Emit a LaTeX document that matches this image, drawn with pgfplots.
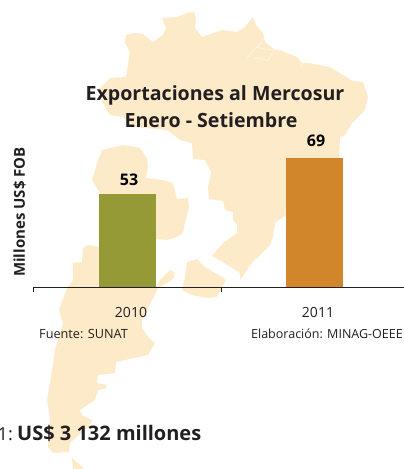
\documentclass[border=0pt]{standalone}
\usepackage{pgfplots}
\pgfplotsset{compat=1.18}
\usepackage{fontspec}
\setmainfont{Open Sans}
\definecolor{cream}{HTML}{FDEAC9}
\definecolor{olive}{HTML}{969A36}
\definecolor{ocre}{HTML}{D2862C}
\definecolor{ink}{HTML}{231F20}
\newcommand{\fs}[1]{\fontsize{#1}{#1}\selectfont}
\begin{document}
\begin{tikzpicture}[x=1pt,y=1pt]
\useasboundingbox (0,0) rectangle (404,469);
\clip (0,0) rectangle (404,469);
\begin{axis}[
  at={(0,0)},anchor=south west,scale only axis,width=404pt,height=469pt,
  xmin=0,xmax=404,ymin=0,ymax=469,y dir=reverse,axis lines=none,clip=false]
% Brazil
\addplot[fill=cream,draw=none] coordinates {
(126,35)(135,33)(143,34)(153,42)(163,35)(166,28)(162,18)(177,17)(190,12)(194,12)(196,20)(195,28)(202,37)(213,33)(223,30)(237,32)(245,27)(253,17)(256,25)(263,33)(265,42)(274,49)(282,51)(297,57)(302,63)(308,63)(330,67)(343,75)(353,81)(363,82)(368,97)(365,110)(352,123)(345,135)(340,137)(339,160)(340,200)(300,208)(286,215)(275,223)(273,237)(270,245)(260,255)(250,266)(240,280)(240,273)(223,262)(212,256)(223,243)(237,233)(237,225)(233,220)(233,212)(225,210)(223,201)(209,199)(208,187)(211,172)(205,160)(193,159)(192,143)(180,140)(167,130)(135,127)(123,117)(110,115)(103,103)(100,88)(110,78)(126,77)(130,52)(125,43)} --cycle;
% Amazon mouth
\addplot[white,line width=0.35pt] coordinates {(247,58)(252,52)(257,47)(263,42)};
\addplot[white,line width=0.3pt] coordinates {(257,47)(265,49)(274,50)};
\addplot[white,line width=0.3pt] coordinates {(254,58)(263,59)(268,61)(274,50)};
\addplot[white,line width=0.35pt] coordinates {(300,68)(302,63)};
\addplot[white,line width=0.5pt] coordinates {(248,268)(256,258)};
% Bolivia and Paraguay
\addplot[fill=cream,draw=none] coordinates {
(102,150)(123,145)(140,148)(147,158)(148,167)(146,178)(163,180)(173,183)(177,199)(188,198)(189,207)(185,223)(183,233)(175,238)(167,240)(156,239)(120,230)(100,193)(92,180)(97,163)} --cycle;
% Uruguay
\addplot[fill=cream,draw=none] coordinates {
(187,262)(197,259)(205,267)(222,277)(226,280)(217,297)(207,298)(192,295)(182,290)(185,277)} --cycle;
% Argentina
\addplot[fill=cream,draw=none] coordinates {
(99,247)(88,245)(83,248)(82,262)(73,263)(73,280)(67,288)(59,310)(63,323)(55,350)(53,363)(50,383)(47,400)(50,417)(48,447)(53,453)(69,452)(70,443)(90,425)(92,420)(82,415)(80,410)(95,400)(98,390)(105,389)(107,385)(97,383)(98,375)(115,373)(116,362)(148,355)(155,343)(148,337)(142,328)(142,320)(158,288)(167,283)(174,278)(174,272)(170,270)(160,280)(156,287)(120,280)} --cycle;
\addplot[fill=cream,draw=none] coordinates {(72,458)(85,469)(73,469)} --cycle;
\tikzset{every node/.append style={inner sep=0pt}}
\node[font=\fs{19.6}\bfseries,text=ink,anchor=base] at (axis cs:215,100.5) {Exportaciones al Mercosur};
\node[font=\fs{19.6}\bfseries,text=ink,anchor=base] at (axis cs:211,127) {Enero - Setiembre};
\node[font=\fs{15}\bfseries,text=ink,rotate=90,anchor=base] at (axis cs:25,212) {Millones US\$ FOB};
\node[font=\fs{12.7},text=ink,anchor=base west] at (axis cs:39,338) {Fuente: SUNAT};
\node[font=\fs{12.5},text=ink,anchor=base east] at (axis cs:403,338) {Elaboración: MINAG-OEEE};
\node[font=\fs{20}\bfseries,text=ink,anchor=base west] at (axis cs:17,440) {US\$ 3 132 millones};
\node[font=\fs{18},text=ink,anchor=base east] at (axis cs:13,440) {1:};
\end{axis}
\begin{axis}[
  at={(34pt,181.5pt)},anchor=south west,x=187pt,y=2.25pt,
  xmin=-0.5,xmax=1.4786,ymin=11.44,ymax=100,
  axis x line=bottom,axis y line=none,axis line style={-,ink,line width=1.4pt},
  ybar,bar width=57pt,bar shift=0pt,axis on top,
  xtick={0,1},xticklabels={2010,2011},
  minor xtick={-0.5,0.5},
  major tick length=0pt,minor tick length=5pt,tick align=outside,
  minor tick style={ink,line width=1pt},
  xticklabel style={font=\fs{14},text=ink,xshift=3.5pt,yshift=-16pt},
  nodes near coords={\bfseries\pgfmathprintnumber[assume math mode=true]{\pgfplotspointmeta}},
  nodes near coords align={anchor=south},
  every node near coord/.append style={font=\fs{16}\bfseries,text=black,xshift=1.5pt},
]
\addplot[fill=olive,draw=none,every node near coord/.append style={yshift=5pt}] coordinates {(0,53)};
\addplot[fill=ocre,draw=none,every node near coord/.append style={yshift=8pt}] coordinates {(1,69)};
\end{axis}
\end{tikzpicture}
\end{document}
